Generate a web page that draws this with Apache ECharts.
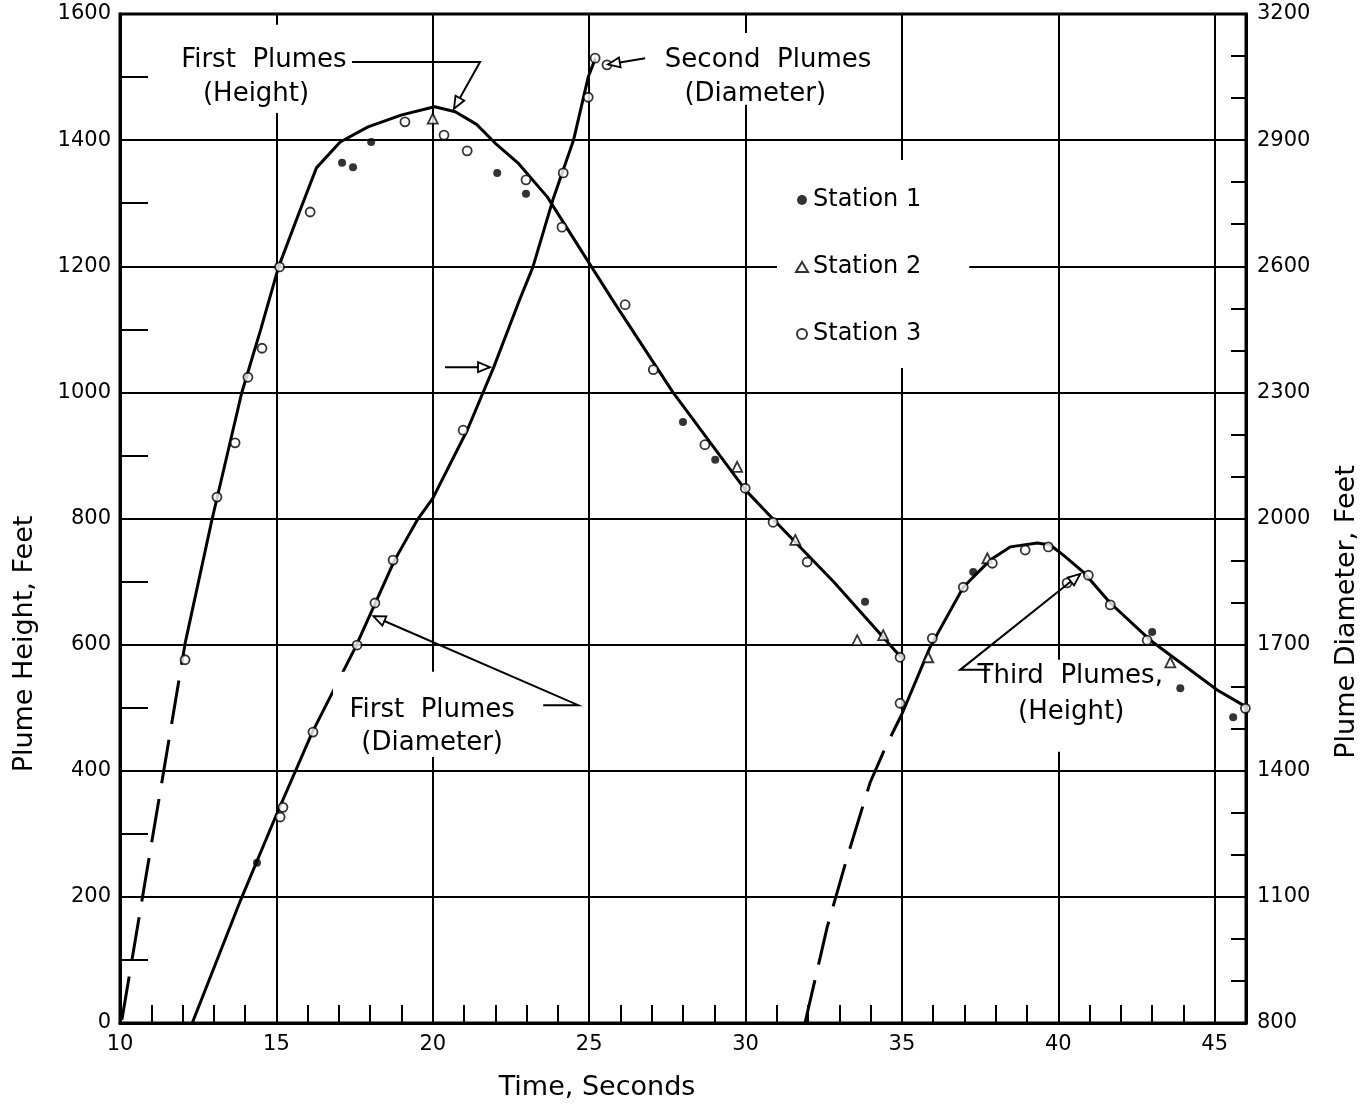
<!DOCTYPE html>
<html>
<head>
<meta charset="utf-8">
<script src="https://cdn.jsdelivr.net/npm/echarts@6/dist/echarts.min.js"></script>
<style>
html,body{margin:0;padding:0;background:#fff;}
#chart{width:1372px;height:1107px;}
</style>
</head>
<body>
<div id="chart"></div>
<script>
// ---------- DATA (time in seconds; height in feet on left axis; diameter in feet on right axis) ----------
const FONT = '"DejaVu Sans", "Liberation Sans", sans-serif';

// First plumes, height (left axis)
const firstHeightDashed = [[10.06, 5], [12.09, 604]];
const firstHeight = [
  [12.09, 604], [12.94, 798], [13.89, 999], [14.5, 1100], [15.07, 1199], [15.72, 1284], [16.28, 1356],
  [17.04, 1397], [17.93, 1421], [19.01, 1440], [20.06, 1453], [20.72, 1445], [21.4, 1425],
  [22.0, 1395], [22.72, 1364], [23.66, 1310], [25.0, 1205], [25.74, 1147], [27.68, 1000],
  [30.0, 845], [30.9, 798], [32.83, 699], [34.97, 580]
];
// First / second plumes, diameter (right axis)
const plumeDiameter = [
  [12.31, 800], [13.86, 1093], [14.97, 1290], [16.15, 1492], [17.53, 1694], [18.78, 1901],
  [19.5, 1996], [20.0, 2048], [21.1, 2210], [21.95, 2360], [22.77, 2519], [23.2, 2598],
  [23.84, 2758], [24.5, 2900], [24.97, 3050], [25.2, 3095]
];
// Third plumes, height (left axis)
const thirdHeightDashed = [[31.9, 0], [32.61, 152], [33.25, 263], [33.98, 381], [34.5, 440], [35.0, 490]];
const thirdHeight = [
  [35.0, 490], [35.9, 596], [36.96, 691], [37.82, 734], [38.46, 755], [39.33, 761], [39.74, 758],
  [40.16, 742], [40.8, 715], [41.66, 666], [42.94, 607], [45.08, 528], [45.91, 504], [46.0, 501]
];

// Observations
const station1Height = [
  [17.1, 1364], [17.45, 1357], [18.03, 1397], [22.06, 1348], [22.98, 1315], [28.0, 953],
  [29.03, 893], [33.82, 668], [37.28, 715], [43.0, 620], [43.9, 531], [45.59, 485]
];
const station1Diameter = [[14.38, 1181]];
const station2Height = [
  [20.0, 1434], [29.73, 882], [31.59, 766], [33.57, 607], [34.4, 615], [35.84, 580],
  [37.73, 737], [43.58, 572]
];
const station3Height = [
  [12.08, 576], [13.1, 834], [13.68, 920], [14.09, 1024], [14.54, 1070], [15.1, 1199],
  [16.08, 1286], [19.11, 1429], [20.36, 1408], [21.1, 1383], [22.98, 1337], [24.13, 1262],
  [26.15, 1139], [27.05, 1036], [28.7, 917], [29.99, 848], [30.88, 794], [31.97, 731],
  [34.94, 580], [34.94, 507], [35.97, 610], [36.96, 691], [37.89, 729], [38.94, 750],
  [39.68, 755], [40.28, 698], [40.96, 710], [41.66, 663], [42.84, 607], [45.98, 499]
];
const station3Diameter = [
  [15.12, 1290], [15.21, 1313], [16.17, 1492], [17.58, 1699], [18.15, 1799], [18.73, 1901],
  [20.97, 2210], [24.17, 2822], [24.97, 3002], [25.19, 3095], [25.57, 3079]
];

// Axis ranges / ticks
const timeRange = [10, 46];
const heightRange = [0, 1600];
const diameterRange = [800, 3200];

// Annotation texts (positions in time / height-feet coordinates)
const annotationLines = [
  {text: 'First  Plumes', at: [14.6, 1527]},
  {text: '(Height)', at: [14.35, 1473]},
  {text: 'Second  Plumes', at: [30.72, 1527]},
  {text: '(Diameter)', at: [30.31, 1472]},
  {text: 'First  Plumes', at: [19.98, 496]},
  {text: '(Diameter)', at: [19.98, 444]},
  {text: 'Third  Plumes,', at: [40.38, 550]},
  {text: '(Height)', at: [40.41, 493]}
];
// White boxes behind the annotations [t0, t1, h0, h1]
const annotationBoxes = [
  [11.6, 17.52, 1443, 1583],
  [26.88, 34.56, 1456, 1570],
  [16.81, 23.18, 422, 557],
  [37.76, 43.0, 430, 576]
];
// Leader lines (time, height-feet), arrow at the last point
const leaders = [
  [[17.42, 1524], [21.51, 1524], [20.68, 1450]],
  [[26.79, 1530], [25.6, 1520]],
  [[23.53, 504], [24.65, 504], [18.1, 645]],
  [[37.82, 560], [36.86, 560], [40.7, 712]],
  [[20.39, 1040], [21.83, 1040]]
];

// ---------- CHART ----------
const chart = echarts.init(document.getElementById('chart'), null, {renderer: 'canvas'});

const lineBase = {type: 'line', symbol: 'none', smooth: false, silent: true, animation: false, z: 2};
const blk = '#000';
const plain = v => String(v);

const option = {
  backgroundColor: '#fff',
  animation: false,
  textStyle: {fontFamily: FONT, color: blk},
  grid: {left: 120, right: 126, top: 14, bottom: 84, show: true, borderColor: blk, borderWidth: 3,
         containLabel: false, outerBoundsMode: 'none'},
  legend: {
    orient: 'vertical', left: 777, top: 160,
    padding: [28, 48, 22, 18], itemGap: 43,
    itemWidth: 12, itemHeight: 10, symbolKeepAspect: true,
    backgroundColor: '#fff', selectedMode: false,
    textStyle: {fontSize: 24, color: blk, fontFamily: FONT},
    data: ['Station 1', 'Station 2', 'Station 3']
  },
  xAxis: [
    {
      type: 'value', min: timeRange[0], max: timeRange[1], interval: 5, position: 'bottom',
      axisLine: {show: true, onZero: false, lineStyle: {color: blk, width: 3}},
      axisTick: {show: false},
      axisLabel: {color: blk, fontSize: 21, margin: 11, fontFamily: FONT, showMaxLabel: false, formatter: plain},
      splitLine: {show: true, lineStyle: {color: blk, width: 2}}
    },
    {
      type: 'value', min: timeRange[0], max: timeRange[1], interval: 1, position: 'bottom',
      axisLine: {show: false, onZero: false},
      axisTick: {show: true, inside: true, length: 18, lineStyle: {color: blk, width: 2}},
      axisLabel: {show: false},
      splitLine: {show: false}
    }
  ],
  yAxis: [
    {
      type: 'value', min: heightRange[0], max: heightRange[1], interval: 200, position: 'left',
      axisLine: {show: true, onZero: false, lineStyle: {color: blk, width: 3}},
      axisTick: {show: false, inside: true},
      minorTick: {show: true, splitNumber: 2, length: 28, lineStyle: {color: blk, width: 2}},
      axisLabel: {color: blk, fontSize: 21, margin: 9, fontFamily: FONT, formatter: plain},
      splitLine: {show: true, lineStyle: {color: blk, width: 2}}
    },
    {
      type: 'value', min: diameterRange[0], max: diameterRange[1], interval: 300, position: 'right',
      axisLine: {show: true, onZero: false, lineStyle: {color: blk, width: 3}},
      axisTick: {show: false, inside: true},
      minorTick: {show: true, splitNumber: 3, length: 15, lineStyle: {color: blk, width: 2}},
      axisLabel: {color: blk, fontSize: 21, margin: 11, fontFamily: FONT, formatter: plain},
      splitLine: {show: false}
    }
  ],
  series: [
    Object.assign({}, lineBase, {name: 'First Plumes (Height) extrapolated', data: firstHeightDashed,
      lineStyle: {color: blk, width: 3, type: [44, 16]}}),
    Object.assign({}, lineBase, {name: 'First Plumes (Height)', data: firstHeight,
      lineStyle: {color: blk, width: 3}}),
    Object.assign({}, lineBase, {name: 'Plumes (Diameter)', data: plumeDiameter, yAxisIndex: 1,
      lineStyle: {color: blk, width: 3}}),
    Object.assign({}, lineBase, {name: 'Third Plumes (Height) extrapolated', data: thirdHeightDashed,
      lineStyle: {color: blk, width: 3, type: [44, 16]}}),
    Object.assign({}, lineBase, {name: 'Third Plumes (Height)', data: thirdHeight,
      lineStyle: {color: blk, width: 3}}),
    {type: 'scatter', name: 'Station 1', data: station1Height, symbol: 'circle', symbolSize: 8,
      itemStyle: {color: blk}, z: 3, silent: true},
    {type: 'scatter', name: 'Station 1', data: station1Diameter, yAxisIndex: 1, symbol: 'circle', symbolSize: 8,
      itemStyle: {color: blk}, z: 3, silent: true},
    {type: 'scatter', name: 'Station 2', data: station2Height, symbol: 'triangle', symbolSize: 10,
      itemStyle: {color: '#fff', borderColor: blk, borderWidth: 1.8}, z: 3, silent: true},
    {type: 'scatter', name: 'Station 3', data: station3Height, symbol: 'circle', symbolSize: 9,
      itemStyle: {color: '#fff', borderColor: blk, borderWidth: 1.8}, z: 3, silent: true},
    {type: 'scatter', name: 'Station 3', data: station3Diameter, yAxisIndex: 1, symbol: 'circle', symbolSize: 9,
      itemStyle: {color: '#fff', borderColor: blk, borderWidth: 1.8}, z: 3, silent: true}
  ]
};
chart.setOption(option);

// ---------- ANNOTATIONS ----------
function toPx(p) { return chart.convertToPixel({xAxisIndex: 0, yAxisIndex: 0}, p); }
const els = [];
annotationBoxes.forEach(b => {
  const a = toPx([b[0], b[3]]), c = toPx([b[1], b[2]]);
  els.push({type: 'rect', z: 50, silent: true,
    shape: {x: a[0], y: a[1], width: c[0] - a[0], height: c[1] - a[1]},
    style: {fill: '#fff'}});
});
annotationLines.forEach(l => {
  const p = toPx(l.at);
  els.push({type: 'text', z: 60, silent: true, x: p[0], y: p[1],
    style: {text: l.text, font: '26px ' + FONT, fill: blk, align: 'center', verticalAlign: 'middle',
            textAlign: 'center', textVerticalAlign: 'middle'}});
});
leaders.forEach(pts => {
  const pp = pts.map(toPx);
  els.push({type: 'polyline', z: 60, silent: true, shape: {points: pp},
    style: {stroke: blk, lineWidth: 2, fill: null}});
  const e = pp[pp.length - 1], s = pp[pp.length - 2];
  const dx = e[0] - s[0], dy = e[1] - s[1], L = Math.hypot(dx, dy);
  const ux = dx / L, uy = dy / L, nx = -uy, ny = ux;
  const len = 12, w = 5;
  const b = [e[0] - ux * len, e[1] - uy * len];
  els.push({type: 'polygon', z: 61, silent: true,
    shape: {points: [e, [b[0] + nx * w, b[1] + ny * w], [b[0] - nx * w, b[1] - ny * w]]},
    style: {stroke: blk, lineWidth: 1.8, fill: '#fff'}});
});
// Axis titles
els.push({type: 'text', z: 60, silent: true, x: 25, y: 644, rotation: Math.PI / 2,
  style: {text: 'Plume Height, Feet', font: '27px ' + FONT, fill: blk, align: 'center', verticalAlign: 'middle',
          textAlign: 'center', textVerticalAlign: 'middle'}});
els.push({type: 'text', z: 60, silent: true, x: 1347, y: 612, rotation: Math.PI / 2,
  style: {text: 'Plume Diameter, Feet', font: '27px ' + FONT, fill: blk, align: 'center', verticalAlign: 'middle',
          textAlign: 'center', textVerticalAlign: 'middle'}});
els.push({type: 'text', z: 60, silent: true, x: 597, y: 1088,
  style: {text: 'Time, Seconds', font: '27px ' + FONT, fill: blk, align: 'center', verticalAlign: 'middle',
          textAlign: 'center', textVerticalAlign: 'middle'}});

chart.setOption({graphic: {elements: els}});
</script>
</body>
</html>
